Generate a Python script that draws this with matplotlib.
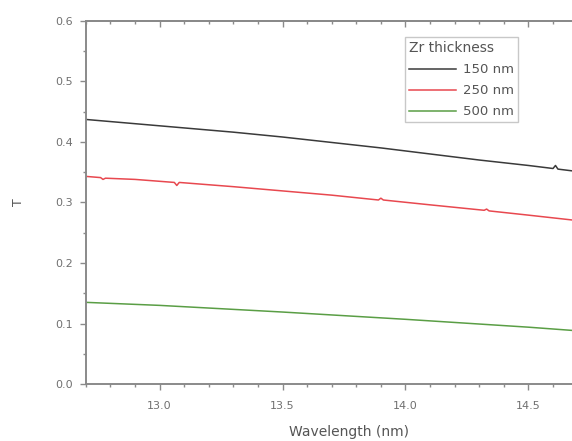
import matplotlib.pyplot as plt
from matplotlib.ticker import MultipleLocator

# wavelength (nm)
wl_150 = [12.70, 12.90, 13.10, 13.30, 13.50, 13.70, 13.90, 14.10, 14.30, 14.50, 14.60, 14.61, 14.62, 14.70]
t_150 = [0.437, 0.430, 0.423, 0.416, 0.408, 0.399, 0.390, 0.380, 0.370, 0.361, 0.356, 0.361, 0.355, 0.351]

wl_250 = [12.70, 12.76, 12.77, 12.78, 12.90, 13.06, 13.07, 13.08, 13.30, 13.50, 13.70,
          13.89, 13.90, 13.91, 14.10, 14.32, 14.33, 14.34, 14.50, 14.70]
t_250 = [0.343, 0.341, 0.338, 0.340, 0.338, 0.333, 0.328, 0.333, 0.326, 0.319, 0.312,
         0.304, 0.307, 0.304, 0.296, 0.287, 0.289, 0.286, 0.279, 0.270]

wl_500 = [12.70, 13.00, 13.50, 14.00, 14.50, 14.70]
t_500 = [0.135, 0.130, 0.119, 0.107, 0.094, 0.088]

fig = plt.figure(figsize=(5.72, 4.41), dpi=100)
ax = fig.add_axes([0.150, 0.129, 0.92, 0.824])

ax.plot(wl_150, t_150, color="#3a3a3a", lw=1.1, label="150 nm")
ax.plot(wl_250, t_250, color="#e8484f", lw=1.1, label="250 nm")
ax.plot(wl_500, t_500, color="#5a9e45", lw=1.1, label="500 nm")

ax.set_xlim(12.7, 14.84)
ax.set_ylim(0.0, 0.6)
ax.xaxis.set_major_locator(MultipleLocator(0.5))
ax.xaxis.set_minor_locator(MultipleLocator(0.1))
ax.yaxis.set_major_locator(MultipleLocator(0.1))
ax.yaxis.set_minor_locator(MultipleLocator(0.05))

for s in ["left", "bottom", "top"]:
    ax.spines[s].set_color("#8a8a8a")
    ax.spines[s].set_linewidth(1.4)
ax.spines["right"].set_visible(False)

ax.tick_params(which="both", colors="#8a8a8a", labelcolor="#707070", labelsize=8, width=1.0)
ax.tick_params(which="major", length=4)
ax.tick_params(which="minor", length=2.5)
ax.tick_params(axis="x", which="major", pad=8)
ax.tick_params(axis="y", which="major", pad=5)

# top axis with inward ticks, no labels
top = ax.secondary_xaxis("top")
top.xaxis.set_major_locator(MultipleLocator(0.5))
top.xaxis.set_minor_locator(MultipleLocator(0.1))
top.tick_params(which="both", direction="in", colors="#8a8a8a", labeltop=False, width=1.0)
top.tick_params(which="major", length=4)
top.tick_params(which="minor", length=2.5)
top.spines["top"].set_color("#8a8a8a")
top.spines["top"].set_linewidth(1.4)

ax.set_xlabel("Wavelength (nm)", fontsize=10, color="#555555", labelpad=10)
ax.set_ylabel("T", fontsize=9, color="#555555", labelpad=22)

leg = ax.legend(title="Zr thickness", loc="upper left", bbox_to_anchor=(0.594, 0.972),
                fontsize=9.5, title_fontsize=10, frameon=True, fancybox=False,
                handlelength=3.6, handletextpad=0.5, labelspacing=0.6, borderpad=0.3)
leg._legend_box.align = "left"
leg.get_frame().set_edgecolor("#bbbbbb")
leg.get_frame().set_linewidth(1.0)
for t in leg.get_texts():
    t.set_color("#555555")
leg.get_title().set_color("#555555")

fig.savefig("out.png", dpi=100)
